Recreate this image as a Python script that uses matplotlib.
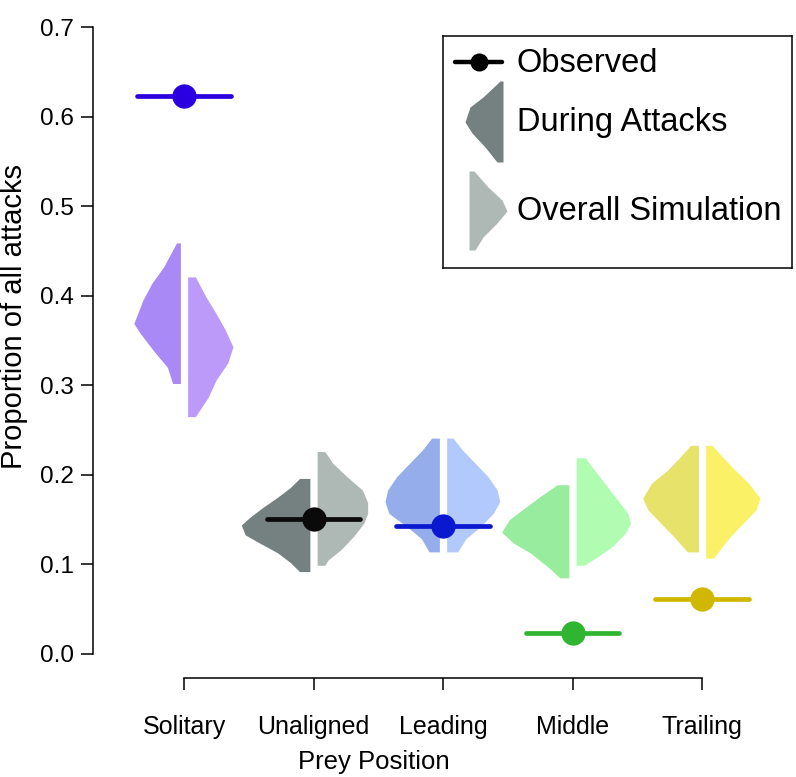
import matplotlib
matplotlib.use('Agg')
import matplotlib.pyplot as plt
import numpy as np

plt.rcParams['font.family'] = ['Liberation Sans', 'DejaVu Sans']

positions = ['Solitary', 'Unaligned', 'Leading', 'Middle', 'Trailing']
observed = [0.623, 0.151, 0.143, 0.023, 0.061]

obs_colors = ['#2b00e0', '#0a0a0a', '#0a18d0', '#2fb52f', '#d0b700']
attack_colors = ['#a889f5', '#758180', '#95adeb', '#98ec9e', '#e6e26a']
sim_colors = ['#bc9af9', '#aeb8b5', '#b1c9fc', '#b0fdb2', '#fbf167']

# half-violin outlines (proportion level, half width)
attack_y = [
    [0.459, 0.432, 0.414, 0.395, 0.380, 0.369, 0.358, 0.339, 0.320, 0.302],
    [0.196, 0.186, 0.175, 0.164, 0.153, 0.144, 0.133, 0.124, 0.113, 0.102, 0.092],
    [0.241, 0.228, 0.213, 0.198, 0.183, 0.170, 0.157, 0.142, 0.129, 0.114],
    [0.189, 0.176, 0.161, 0.150, 0.136, 0.124, 0.113, 0.097, 0.085],
    [0.233, 0.220, 0.205, 0.191, 0.174, 0.161, 0.146, 0.131, 0.114],
]
attack_w = [
    [0.03, 0.13, 0.22, 0.29, 0.33, 0.36, 0.31, 0.21, 0.10, 0.06],
    [0.08, 0.15, 0.25, 0.36, 0.46, 0.53, 0.50, 0.39, 0.25, 0.15, 0.08],
    [0.06, 0.13, 0.23, 0.33, 0.40, 0.42, 0.39, 0.25, 0.14, 0.08],
    [0.09, 0.22, 0.36, 0.46, 0.52, 0.43, 0.30, 0.16, 0.07],
    [0.06, 0.14, 0.24, 0.36, 0.43, 0.39, 0.29, 0.19, 0.085],
]
sim_y = [
    [0.421, 0.399, 0.380, 0.362, 0.343, 0.325, 0.306, 0.287, 0.265],
    [0.226, 0.213, 0.198, 0.183, 0.169, 0.157, 0.146, 0.131, 0.116, 0.105, 0.099],
    [0.241, 0.228, 0.213, 0.198, 0.183, 0.170, 0.157, 0.142, 0.129, 0.114],
    [0.219, 0.202, 0.187, 0.172, 0.157, 0.146, 0.135, 0.120, 0.108, 0.099],
    [0.233, 0.220, 0.205, 0.191, 0.174, 0.161, 0.146, 0.131, 0.120, 0.107],
]
sim_w = [
    [0.06, 0.14, 0.22, 0.29, 0.35, 0.31, 0.22, 0.16, 0.06],
    [0.06, 0.12, 0.23, 0.35, 0.39, 0.39, 0.36, 0.28, 0.18, 0.085, 0.06],
    [0.05, 0.12, 0.22, 0.32, 0.39, 0.41, 0.36, 0.26, 0.15, 0.085],
    [0.07, 0.16, 0.24, 0.32, 0.40, 0.42, 0.38, 0.28, 0.16, 0.06],
    [0.05, 0.13, 0.23, 0.33, 0.42, 0.39, 0.29, 0.19, 0.13, 0.06],
]

# legend icon outlines (level from top, width), in legend pixels
icon_attack_y = [45, 61, 71, 86, 97, 111, 126]
icon_attack_w = [3, 20, 33, 38, 31, 18, 6]
icon_sim_y = [135, 151, 164, 175, 187, 201, 214]
icon_sim_w = [5, 19, 33, 38, 28, 14, 6]

gap = 0.028
obs_half = 0.36

fig = plt.figure(figsize=(7.96, 7.77), dpi=100)
ax = fig.add_axes([0.1173, 0.1272, 0.8785, 0.8611])

for i in range(len(positions)):
    c = i + 1
    ya = np.array(attack_y[i])
    wa = np.array(attack_w[i])
    ax.fill_betweenx(ya, c - gap - wa, c - gap, color=attack_colors[i], lw=0, zorder=2)
    ys = np.array(sim_y[i])
    ws = np.array(sim_w[i])
    ax.fill_betweenx(ys, c + gap, c + gap + ws, color=sim_colors[i], lw=0, zorder=2)
    ax.plot([c - obs_half, c + obs_half], [observed[i], observed[i]],
            color=obs_colors[i], lw=3.4, solid_capstyle='round', zorder=3)
    ax.plot(c, observed[i], 'o', color=obs_colors[i], ms=17.5, mew=0, zorder=4)

ax.set_xlim(0.3, 5.7)
ax.set_ylim(-0.027, 0.72)
for s in ['top', 'right']:
    ax.spines[s].set_visible(False)
ax.spines['left'].set_bounds(0, 0.7)
ax.spines['bottom'].set_bounds(1, 5)
ax.spines['left'].set_linewidth(1.1)
ax.spines['bottom'].set_linewidth(1.1)
ax.set_yticks([0.0, 0.1, 0.2, 0.3, 0.4, 0.5, 0.6, 0.7])
ax.set_yticklabels(['0.0', '0.1', '0.2', '0.3', '0.4', '0.5', '0.6', '0.7'])
ax.set_xticks(range(1, 6))
ax.set_xticklabels(positions)
ax.tick_params(axis='y', direction='out', length=8.3, width=1.1, labelsize=17.5, pad=6)
ax.tick_params(axis='x', direction='out', length=8.6, width=1.1, labelsize=18, pad=18)
ax.set_xlabel('Prey Position', fontsize=18.5)
ax.xaxis.set_label_coords(0.401, -0.108)
ax.set_ylabel('Proportion of all attacks', fontsize=21)
ax.yaxis.set_label_coords(-0.094, 0.541)

# legend box drawn in its own pixel-scaled axes
lg = fig.add_axes([443 / 796, 1 - 268 / 777, 349 / 796, 232 / 777])
lg.set_xlim(0, 349)
lg.set_ylim(232, 0)
lg.set_xticks([])
lg.set_yticks([])
for s in lg.spines.values():
    s.set_linewidth(1.1)
lg.plot([12, 59], [26, 26], color='black', lw=3.2, solid_capstyle='round')
lg.plot(36, 26, 'o', color='black', ms=13, mew=0)
lg.fill_betweenx(icon_attack_y, 60 - np.array(icon_attack_w), 60, color=attack_colors[1], lw=0)
lg.fill_betweenx(icon_sim_y, 26, 26 + np.array(icon_sim_w), color=sim_colors[1], lw=0)
lg.text(74, 27, 'Observed', fontsize=23.5, va='center', ha='left')
lg.text(74, 87, 'During Attacks', fontsize=23.5, va='center', ha='left')
lg.text(74, 176, 'Overall Simulation', fontsize=23.5, va='center', ha='left')

fig.savefig('out.png', dpi=100)
